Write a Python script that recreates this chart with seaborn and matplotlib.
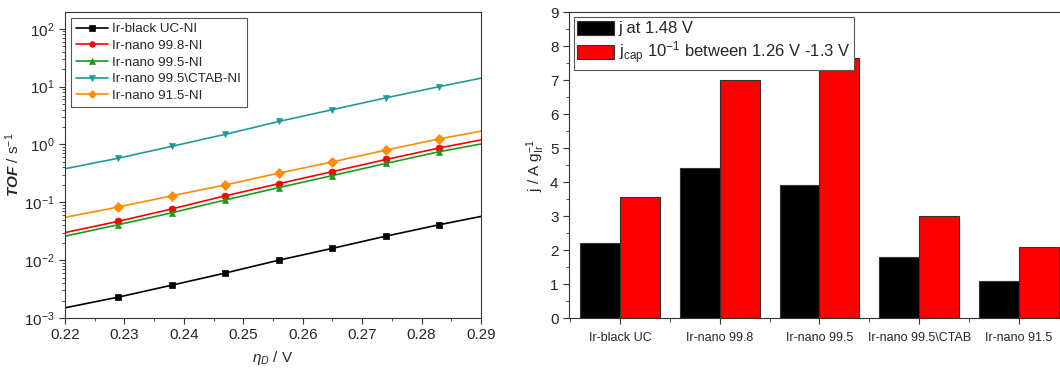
import numpy as np
import pandas as pd
import matplotlib
matplotlib.use("Agg")
import matplotlib.pyplot as plt
from matplotlib.lines import Line2D
import seaborn as sns
from matplotlib.ticker import LogLocator, MultipleLocator, NullFormatter

# overpotential grid (V)
eta = [0.22, 0.229, 0.238, 0.247, 0.256, 0.265, 0.274, 0.283, 0.29]

# TOF values (s^-1)
tof_black = [0.0015, 0.0023, 0.0037, 0.0060, 0.010, 0.016, 0.026, 0.041, 0.057]
tof_nano998 = [0.030, 0.047, 0.077, 0.13, 0.21, 0.34, 0.55, 0.87, 1.2]
tof_nano995 = [0.026, 0.041, 0.066, 0.11, 0.18, 0.29, 0.47, 0.75, 1.02]
tof_ctab = [0.38, 0.58, 0.93, 1.5, 2.5, 4.0, 6.4, 10.0, 14.0]
tof_nano915 = [0.055, 0.083, 0.13, 0.20, 0.32, 0.50, 0.80, 1.25, 1.7]

series_names = ["Ir-black UC-NI", "Ir-nano 99.8-NI", "Ir-nano 99.5-NI",
                "Ir-nano 99.5\\CTAB-NI", "Ir-nano 91.5-NI"]
series_vals = [tof_black, tof_nano998, tof_nano995, tof_ctab, tof_nano915]
line_colors = ["#000000", "#ff0000", "#1a9a1a", "#21999a", "#ff8c00"]
line_markers = ["s", "o", "^", "v", "D"]

# bar chart data
catalysts = ["Ir-black UC", "Ir-nano 99.8", "Ir-nano 99.5", "Ir-nano 99.5\\CTAB", "Ir-nano 91.5"]
j_148 = [2.2, 4.4, 3.9, 1.8, 1.1]
j_cap = [3.55, 7.0, 7.65, 3.0, 2.1]
bar_labels = ["j at 1.48 V", r"j$_{\rm cap}$ 10$^{-1}$ between 1.26 V -1.3 V"]

sns.set_style("ticks")
plt.rcParams["font.family"] = ["Liberation Sans", "DejaVu Sans"]
plt.rcParams["mathtext.fontset"] = "custom"
plt.rcParams["mathtext.rm"] = "Liberation Sans"
plt.rcParams["mathtext.it"] = "Liberation Sans:italic"
plt.rcParams["mathtext.bf"] = "Liberation Sans:bold"
plt.rcParams["mathtext.bfit"] = "Liberation Sans:bold:italic"

fig = plt.figure(figsize=(10.6, 3.69), dpi=100)
ax1 = fig.add_axes([65 / 1060, 1 - 318 / 369, 416 / 1060, 306 / 369])
ax2 = fig.add_axes([569 / 1060, 1 - 318 / 369, 500 / 1060, 306 / 369])

# --- left: TOF vs overpotential ---
rows = []
for name, vals in zip(series_names, series_vals):
    for x, y in zip(eta, vals):
        rows.append({"eta": x, "tof": y, "sample": name})
df_tof = pd.DataFrame(rows)

for name, c, m in zip(series_names, line_colors, line_markers):
    sub = df_tof[df_tof["sample"] == name]
    sns.lineplot(data=sub, x="eta", y="tof", ax=ax1, color=c, lw=1.2,
                 marker=m, markersize=5, markeredgewidth=0.5, markeredgecolor=c,
                 markevery=slice(1, -1), legend=False)

ax1.set_yscale("log")
ax1.set_xlim(0.22, 0.29)
ax1.set_ylim(1e-3, 10 ** 2.29)
ax1.set_xticks([0.22, 0.23, 0.24, 0.25, 0.26, 0.27, 0.28, 0.29])
ax1.xaxis.set_minor_locator(MultipleLocator(0.005))
ax1.yaxis.set_major_locator(LogLocator(base=10, numticks=10))
ax1.yaxis.set_minor_locator(LogLocator(base=10, subs=np.arange(2, 10), numticks=20))
ax1.yaxis.set_minor_formatter(NullFormatter())
ax1.tick_params(axis="both", which="major", labelsize=11, length=4, color="#333333")
ax1.tick_params(axis="both", which="minor", length=2, color="#333333")
ax1.set_xlabel(r"$\eta_D$ / V", fontsize=11, labelpad=5)
ax1.set_ylabel(r"$\mathbfit{TOF}$ / s$^{-1}$", fontsize=11, labelpad=1)
for sp in ax1.spines.values():
    sp.set_visible(True)
    sp.set_color("#333333")
handles = [Line2D([], [], color=c, lw=1.2, marker=m, markersize=4,
                  markeredgewidth=0.5, markeredgecolor=c)
           for c, m in zip(line_colors, line_markers)]
leg1 = ax1.legend(handles, series_names, loc="upper left", fontsize=9.6,
                  frameon=True, fancybox=False, framealpha=1,
                  handlelength=2.4, borderpad=0.4, labelspacing=0.33,
                  handletextpad=0.3, borderaxespad=0.3,
                  bbox_to_anchor=(0.005, 0.995))
leg1.get_frame().set_edgecolor("#555555")
leg1.get_frame().set_linewidth(0.8)

# --- right: bar chart ---
df_bar = pd.DataFrame({
    "catalyst": catalysts * 2,
    "value": j_148 + j_cap,
    "kind": [bar_labels[0]] * len(catalysts) + [bar_labels[1]] * len(catalysts),
})
sns.barplot(data=df_bar, x="catalyst", y="value", hue="kind", ax=ax2,
            palette=["#000000", "#ff0000"], width=0.8, gap=0,
            edgecolor="#333333", linewidth=0.8, saturation=1)
ax2.set_xlim(-0.51, 4.49)
ax2.set_ylim(0, 9)
ax2.yaxis.set_major_locator(MultipleLocator(1))
ax2.yaxis.set_minor_locator(MultipleLocator(0.5))
ax2.set_xticks(range(len(catalysts)))
ax2.set_xticks(np.arange(-0.5, 4.6, 1.0), minor=True)
ax2.set_xticklabels(catalysts, fontsize=9)
ax2.tick_params(axis="y", which="major", labelsize=11, length=4, color="#333333")
ax2.tick_params(axis="y", which="minor", length=2, color="#333333")
ax2.tick_params(axis="x", which="major", length=4, color="#333333", pad=6)
ax2.tick_params(axis="x", which="minor", length=3, color="#333333")
ax2.set_xlabel("")
ax2.set_ylabel(r"j / A g$_{\rm Ir}^{-1}$", fontsize=11, labelpad=2)
for sp in ax2.spines.values():
    sp.set_visible(True)
    sp.set_color("#333333")
leg2 = ax2.legend(loc="upper left", fontsize=12, frameon=True, fancybox=False,
                  framealpha=1, handlelength=2.2, handleheight=0.9,
                  borderpad=0.2, labelspacing=0.2, handletextpad=0.3,
                  borderaxespad=0.2, bbox_to_anchor=(0.003, 0.993), title=None)
leg2.get_frame().set_edgecolor("#555555")
leg2.get_frame().set_linewidth(0.8)

fig.savefig("out.png", dpi=100)
